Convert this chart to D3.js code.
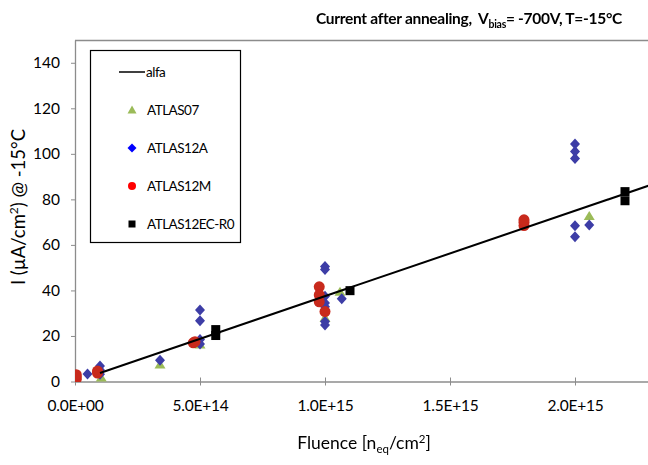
<!DOCTYPE html>
<html><head><meta charset="utf-8">
<script src="https://cdn.jsdelivr.net/npm/d3@7"></script>
<style>
html,body{margin:0;padding:0;background:#fff;}
svg{display:block;font-family:Lato,"Open Sans",sans-serif;}
</style></head>
<body>
<svg id="c" width="648" height="465"></svg>
<script>
// ---- data ----
const xTicks = [0, 5e14, 1e15, 1.5e15, 2e15];
const xTickLabels = ["0.0E+00", "5.0E+14", "1.0E+15", "1.5E+15", "2.0E+15"];
const yTicks = [0, 20, 40, 60, 80, 100, 120, 140];

const alfaF = [1e14, 2.5e15];
const alfaI = [3.75, 93.75];

const atlas07F = [1.05e14, 3.4e14, 5.0e14, 1.0e15, 1.06e15, 2.057e15];
const atlas07I = [1.8, 7.5, 16.3, 28, 39.4, 72.7];

const atlas12aF = [5e13, 1e14, 1e14, 1e14, 3.4e14, 5e14, 5e14, 5e14, 5e14,
  1e15, 1e15, 1e15, 1e15, 1e15, 1e15, 1e15, 1.067e15,
  2e15, 2e15, 2e15, 2e15, 2e15, 2.057e15];
const atlas12aI = [3.3, 6.8, 5.0, 3.2, 9.3, 31.4, 26.7, 18.5, 16.5,
  50.5, 49.2, 37.5, 34.5, 32.8, 26.3, 24.8, 36.3,
  104.3, 101, 98, 68.4, 63.6, 68.7];

const atlas12mF = [5e12, 5e12, 5e12, 9e13, 9e13, 4.73e14, 4.8e14,
  9.77e14, 9.77e14, 9.77e14, 1.0e15, 1.796e15, 1.796e15, 1.796e15];
const atlas12mI = [1.0, 2.0, 3.0, 3.7, 4.6, 17.0, 17.5,
  41.6, 38, 35, 30.7, 68.5, 70, 71];

const ecF = [5.63e14, 5.63e14, 1.1e15, 2.2e15, 2.2e15];
const ecI = [20.2, 22.8, 39.9, 83.4, 79.4];

const legendLabels = ["alfa", "ATLAS07", "ATLAS12A", "ATLAS12M", "ATLAS12EC-R0"];

// ---- chart ----
const svg = d3.select("#c");
const L = 75, R = 648, T = 40, B = 381.5;
const x = d3.scaleLinear().domain([0, 2.292e15]).range([L, R]);
const y = d3.scaleLinear().domain([0, 150]).range([B, T]);

const defs = svg.append("defs");
defs.append("filter").attr("id","blur").append("feGaussianBlur").attr("stdDeviation",0.55);
defs.append("clipPath").attr("id","clip").append("rect")
  .attr("x", L).attr("y", T).attr("width", R - L).attr("height", B - T);

// frame
svg.append("line").attr("x1", L).attr("x2", R).attr("y1", T + 0.5).attr("y2", T + 0.5)
  .attr("stroke", "#8c8c8c").attr("stroke-width", 1.3);

// axes
const gx = svg.append("g").attr("transform", `translate(0,${B})`)
  .call(d3.axisBottom(x).tickValues(xTicks).tickFormat((d, i) => xTickLabels[i]).tickSizeInner(4).tickSizeOuter(0).tickPadding(14));
const gy = svg.append("g").attr("transform", `translate(${L},0)`)
  .call(d3.axisLeft(y).tickValues(yTicks).tickSizeInner(4).tickSizeOuter(0).tickPadding(11));
[gx, gy].forEach(g => {
  g.select(".domain").attr("stroke", "#8c8c8c").attr("stroke-width", 1.3);
  g.selectAll(".tick line").attr("stroke", "#8c8c8c");
  g.selectAll(".tick text").attr("fill", "#000").style("font-size", "15.5px").style("font-family", "Lato, sans-serif");
});
gx.selectAll(".tick text").style("letter-spacing", "-0.2px");
gx.selectAll(".tick line").attr("y1", -4).attr("y2", 4);

const plot = svg.append("g").attr("clip-path", "url(#clip)");
const pts = plot.append("g").attr("filter", "url(#blur)");

// triangles
pts.selectAll(".tri").data(atlas07F).join("path")
  .attr("d", "M0,-5L5.5,4L-5.5,4Z")
  .attr("transform", (d, i) => `translate(${x(d)},${y(atlas07I[i])})`)
  .attr("fill", "#9bbb59");
// diamonds
pts.selectAll(".dia").data(atlas12aF).join("path")
  .attr("d", "M0,-5.5L5,0L0,5.5L-5,0Z")
  .attr("transform", (d, i) => `translate(${x(d)},${y(atlas12aI[i])})`)
  .attr("fill", "#3c3ca6");
// circles
pts.selectAll(".cir").data(atlas12mF).join("circle")
  .attr("cx", d => x(d)).attr("cy", (d, i) => y(atlas12mI[i])).attr("r", 5.5)
  .attr("fill", "#c8291d");

// alfa line
const line = d3.line().x(d => x(d[0])).y(d => y(d[1]));
plot.append("path").datum(alfaF.map((f, i) => [f, alfaI[i]]))
  .attr("d", line).attr("fill", "none").attr("stroke", "#000").attr("stroke-width", 2);

// squares
pts.selectAll(".sq").data(ecF).join("rect")
  .attr("x", d => x(d) - 4.5).attr("y", (d, i) => y(ecI[i]) - 4.5)
  .attr("width", 9).attr("height", 9).attr("fill", "#000");

// legend
const lg = svg.append("g");
lg.append("rect").attr("x", 90.5).attr("y", 50.5).attr("width", 150).attr("height", 192)
  .attr("fill", "#fff").attr("stroke", "#000").attr("stroke-width", 1.2);
const ly = [72, 110, 148, 186, 224];
lg.append("line").attr("x1", 119).attr("x2", 145).attr("y1", ly[0]).attr("y2", ly[0])
  .attr("stroke", "#000").attr("stroke-width", 1.5);
lg.append("path").attr("d", "M0,-4.5L4.5,3.5L-4.5,3.5Z").attr("transform", `translate(132,${ly[1]})`).attr("fill", "#9bbb59");
lg.append("path").attr("d", "M0,-4.5L4.5,0L0,4.5L-4.5,0Z").attr("transform", `translate(132,${ly[2]})`).attr("fill", "#0000ff");
lg.append("circle").attr("cx", 132).attr("cy", ly[3]).attr("r", 4).attr("fill", "#ff0000");
lg.append("rect").attr("x", 128.5).attr("y", ly[4] - 3.5).attr("width", 7).attr("height", 7).attr("fill", "#000");
lg.selectAll(".lt").data(legendLabels).join("text")
  .attr("x", (d, i) => i === 0 ? 146 : 147).attr("y", (d, i) => ly[i]).attr("dy", "0.35em")
  .style("font-size", "13.5px").style("letter-spacing", "-0.5px").text(d => d);

// axis titles
const yt = svg.append("text").attr("transform", "translate(25,207) rotate(-90)")
  .attr("text-anchor", "middle").style("font-size", "18.5px");
yt.append("tspan").text("I (µA/cm");
yt.append("tspan").attr("dy", -7).style("font-size", "12px").text("2");
yt.append("tspan").attr("dy", 7).text(") @ -15°C");

const xt = svg.append("text").attr("x", 364).attr("y", 449)
  .attr("text-anchor", "middle").style("font-size", "17.5px");
xt.append("tspan").text("Fluence [n");
xt.append("tspan").attr("dy", 4).style("font-size", "11.5px").text("eq");
xt.append("tspan").attr("dy", -4).text("/cm");
xt.append("tspan").attr("dy", -6).style("font-size", "11.5px").text("2");
xt.append("tspan").attr("dy", 6).text("]");

// title
const tt = svg.append("text").attr("x", 622).attr("y", 24).attr("text-anchor", "end")
  .style("font-size", "15.5px").style("font-weight", "bold").style("letter-spacing", "-0.3px")
  .attr("xml:space", "preserve");
tt.append("tspan").text("Current after annealing,  V");
tt.append("tspan").attr("dy", 4).style("font-size", "10.5px").text("bias");
tt.append("tspan").attr("dy", -4).text("= -700V, T=-15°C");
</script>
</body></html>
